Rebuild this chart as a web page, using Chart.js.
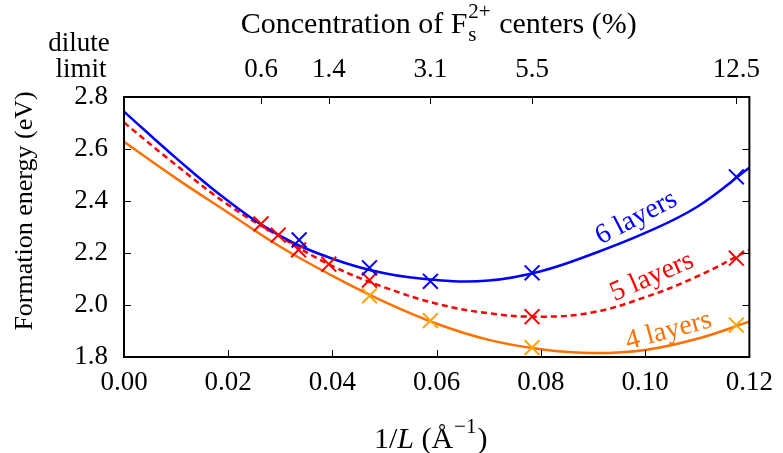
<!DOCTYPE html>
<html>
<head>
<meta charset="utf-8">
<script src="https://cdn.jsdelivr.net/npm/chart.js@4"></script>
<style>
  body { margin: 0; background: #fff; }
</style>
</head>
<body>
<canvas id="grafico" width="783" height="453"></canvas>
<script>
const xAjuste = [0, 0.01, 0.02, 0.03, 0.04, 0.05, 0.06, 0.07, 0.08, 0.09, 0.10, 0.11, 0.12];
const ajuste6 = [2.744, 2.565, 2.400, 2.266, 2.178, 2.122, 2.096, 2.094, 2.130, 2.197, 2.277, 2.378, 2.528];
const ajuste5 = [2.702, 2.538, 2.385, 2.262, 2.150, 2.068, 2.005, 1.968, 1.955, 1.972, 2.030, 2.110, 2.212];
const ajuste4 = [2.628, 2.487, 2.355, 2.224, 2.112, 2.012, 1.928, 1.866, 1.830, 1.815, 1.827, 1.870, 1.936];

// puntos calculados
const x6 = [0.0336, 0.0471, 0.0588, 0.0783, 0.1175];
const y6 = [2.250, 2.143, 2.091, 2.124, 2.493];
const x5 = [0.0263, 0.0296, 0.0335, 0.0393, 0.0471, 0.0783, 0.1175];
const y5 = [2.312, 2.269, 2.212, 2.157, 2.096, 1.955, 2.180];
const x4 = [0.0471, 0.0588, 0.0783, 0.1175];
const y4 = [2.035, 1.940, 1.836, 1.923];

// eje de arriba: concentracion
const posArriba = [0.0263, 0.0393, 0.0588, 0.0783, 0.1175];
const textoArriba = ["0.6", "1.4", "3.1", "5.5", "12.5"];

// etiquetas de las curvas
const nombres = ["6 layers", "5 layers", "4 layers"];
const nombreX = [0.0983, 0.1013, 0.1045];
const nombreY = [2.335, 2.108, 1.900];
const nombreAngulo = [-27.5, -23.5, -15];

const AZUL = "#0000ff";
const ROJO = "#ff0000";
const NARANJA = "#ff7000";
const NARANJA_PUNTO = "#ffa500";
const fuente = '"Liberation Serif", "Times New Roman", serif';

const juntar = (xs, ys) => xs.map((x, i) => ({ x: x, y: ys[i] }));

const curva = (datos, color, dash) => ({
  data: datos,
  borderColor: color,
  borderWidth: 2.5,
  borderDash: dash || [],
  pointRadius: 0,
  tension: 0.4,
  order: 2,
});

const puntos = (datos, color) => ({
  data: datos,
  showLine: false,
  pointStyle: "crossRot",
  pointRadius: 10.5,
  pointBorderWidth: 2,
  borderColor: color,
  backgroundColor: color,
  order: 1,
});

// texto con subindice / superindice
const escribirPartes = (ctx, partes, cx, base, tam) => {
  const chico = Math.round(tam * 0.7);
  let total = 0;
  partes.forEach((p) => {
    if (p.t) {
      ctx.font = (p.it ? "italic " : "") + tam + "px " + fuente;
      p.w = ctx.measureText(p.t).width;
    } else {
      ctx.font = chico + "px " + fuente;
      p.w = Math.max(ctx.measureText(p.sup || "").width, ctx.measureText(p.sub || "").width) + 2;
    }
    total += p.w;
  });
  let x = cx - total / 2;
  partes.forEach((p) => {
    if (p.t) {
      ctx.font = (p.it ? "italic " : "") + tam + "px " + fuente;
      ctx.fillText(p.t, x, base);
    } else {
      ctx.font = chico + "px " + fuente;
      if (p.sup) ctx.fillText(p.sup, x + 1, base - tam * 0.5);
      if (p.sub) ctx.fillText(p.sub, x + 1, base + tam * 0.27);
    }
    x += p.w;
  });
};

const marco = {
  id: "marco",
  afterDatasetsDraw(chart) {
    const ctx = chart.ctx;
    const a = chart.chartArea;
    const sx = chart.scales.x;
    const sx2 = chart.scales.x2;
    const sy = chart.scales.y;
    ctx.save();
    ctx.strokeStyle = "#000";
    ctx.lineWidth = 1;
    ctx.beginPath();
    sx.ticks.forEach((t) => {
      const px = Math.round(sx.getPixelForValue(t.value)) + 0.5;
      ctx.moveTo(px, a.bottom);
      ctx.lineTo(px, a.bottom - 7);
    });
    sx2.ticks.forEach((t) => {
      const px = Math.round(sx2.getPixelForValue(t.value)) + 0.5;
      ctx.moveTo(px, a.top);
      ctx.lineTo(px, a.top + 7);
    });
    sy.ticks.forEach((t) => {
      const py = Math.round(sy.getPixelForValue(t.value)) + 0.5;
      ctx.moveTo(a.left, py);
      ctx.lineTo(a.left + 7, py);
      ctx.moveTo(a.right, py);
      ctx.lineTo(a.right - 7, py);
    });
    ctx.stroke();
    ctx.lineWidth = 2;
    ctx.strokeRect(a.left, a.top, a.right - a.left, a.bottom - a.top);
    ctx.restore();
  },
  afterDraw(chart) {
    const ctx = chart.ctx;
    const a = chart.chartArea;
    const cx = (a.left + a.right) / 2;
    ctx.save();
    ctx.fillStyle = "#000";
    ctx.textAlign = "left";
    ctx.textBaseline = "alphabetic";
    escribirPartes(ctx, [{ t: "Concentration of F" }, { sub: "s", sup: "2+" }, { t: " centers (%)" }], cx + 2, 33, 30);
    escribirPartes(ctx, [{ t: "1/" }, { t: "L", it: true }, { t: " (Å" }, { sup: "−1" }, { t: ")" }], cx - 6, 448, 30);

    ctx.font = "27px " + fuente;
    ctx.textAlign = "center";
    ctx.textBaseline = "middle";
    ctx.fillText("dilute", 79, 44);
    ctx.fillText("limit", 81, 70);

    ctx.save();
    ctx.translate(25, 211);
    ctx.rotate(-Math.PI / 2);
    ctx.font = "26px " + fuente;
    ctx.fillText("Formation energy (eV)", 0, 0);
    ctx.restore();

    const colores = [AZUL, ROJO, NARANJA];
    ctx.font = "28px " + fuente;
    nombres.forEach((n, i) => {
      const px = chart.scales.x.getPixelForValue(nombreX[i]);
      const py = chart.scales.y.getPixelForValue(nombreY[i]);
      ctx.save();
      ctx.translate(px, py);
      ctx.rotate((nombreAngulo[i] * Math.PI) / 180);
      ctx.fillStyle = colores[i];
      ctx.fillText(n, 0, 0);
      ctx.restore();
    });
    ctx.restore();
  },
};

const letra = { family: fuente, size: 27 };

new Chart(document.getElementById("grafico"), {
  type: "line",
  data: {
    datasets: [
      curva(juntar(xAjuste, ajuste6), AZUL),
      curva(juntar(xAjuste, ajuste5), ROJO, [6, 4]),
      curva(juntar(xAjuste, ajuste4), NARANJA),
      puntos(juntar(x6, y6), AZUL),
      puntos(juntar(x5, y5), ROJO),
      puntos(juntar(x4, y4), NARANJA_PUNTO),
    ],
  },
  options: {
    responsive: false,
    animation: false,
    devicePixelRatio: 1,
    layout: { padding: { left: 64, right: 25, top: 0, bottom: 0 } },
    plugins: { legend: { display: false }, tooltip: { enabled: false } },
    scales: {
      x: {
        type: "linear",
        position: "bottom",
        min: 0,
        max: 0.12,
        grid: { display: false, drawTicks: false },
        border: { display: false },
        ticks: { stepSize: 0.02, font: letra, color: "#000", padding: 10, maxRotation: 0, callback: (v) => v.toFixed(2) },
        afterFit: (s) => { s.height = 96; },
      },
      x2: {
        type: "linear",
        position: "top",
        min: 0,
        max: 0.12,
        grid: { display: false, drawTicks: false },
        border: { display: false },
        afterBuildTicks: (s) => { s.ticks = posArriba.map((v) => ({ value: v })); },
        ticks: { font: { family: fuente, size: 27, lineHeight: 1 }, color: "#000", padding: 14, autoSkip: false, maxRotation: 0, callback: (v, i) => textoArriba[i] },
        afterFit: (s) => { s.height = 97; },
      },
      y: {
        min: 1.8,
        max: 2.8,
        grid: { display: false, drawTicks: false },
        border: { display: false },
        ticks: { stepSize: 0.2, font: letra, color: "#000", padding: 16, callback: (v) => v.toFixed(1) },
        afterFit: (s) => { s.width = 60; },
      },
    },
  },
  plugins: [marco],
});
</script>
</body>
</html>
